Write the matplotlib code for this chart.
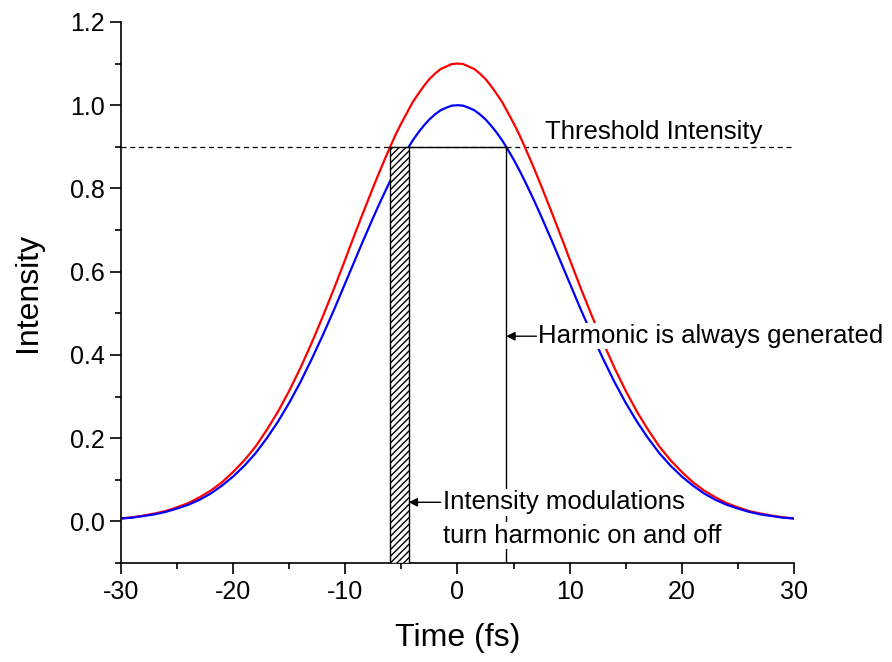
import numpy as np
import matplotlib.pyplot as plt
from matplotlib.patches import Rectangle

plt.rcParams['font.family'] = ['Liberation Sans', 'DejaVu Sans']

# pulse envelopes for t >= 0 (curves are symmetric)
t_half = [0, 0.5, 1, 1.5, 2, 2.5, 3, 3.5, 4, 4.5, 5, 5.5, 6, 6.5, 7, 7.5, 8, 8.5, 9, 9.5,
          10, 11, 12, 13, 14, 15, 16, 17, 18, 19, 20, 21, 22, 23, 24, 25, 26, 27, 28, 29, 30]
blue_half = [1.000, 0.999, 0.994, 0.988, 0.978, 0.966, 0.951, 0.934, 0.915, 0.893,
             0.870, 0.845, 0.818, 0.790, 0.761, 0.731, 0.700, 0.669, 0.637, 0.605,
             0.573, 0.509, 0.448, 0.390, 0.335, 0.285, 0.240, 0.200, 0.164, 0.134,
             0.108, 0.086, 0.067, 0.052, 0.040, 0.031, 0.023, 0.017, 0.013, 0.009, 0.007]
red_half = [1.100, 1.099, 1.093, 1.087, 1.076, 1.063, 1.046, 1.027, 1.007, 0.982,
            0.957, 0.930, 0.900, 0.869, 0.837, 0.804, 0.770, 0.736, 0.701, 0.666,
            0.630, 0.560, 0.493, 0.429, 0.369, 0.314, 0.264, 0.220, 0.180, 0.147,
            0.119, 0.094, 0.074, 0.058, 0.044, 0.034, 0.025, 0.019, 0.014, 0.010, 0.007]

threshold = 0.9
gate_left = -6.0     # red crosses threshold
gate_right = -4.35   # blue crosses threshold
always_on = 4.35

t = np.array([-v for v in t_half[:0:-1]] + t_half)
blue = np.array(blue_half[:0:-1] + blue_half)
red = np.array(red_half[:0:-1] + red_half)

fig = plt.figure(figsize=(8.92, 6.62), dpi=100)
ax = fig.add_axes([0.1357, 0.1495, 0.7543, 0.8173])

ax.plot(t, red, color='red', lw=1.6, zorder=2)
ax.plot(t, blue, color='blue', lw=1.6, zorder=2)

ymin = -0.1
ax.axhline(threshold, color='black', ls=(0, (4, 3)), lw=0.9, zorder=1)
ax.add_patch(Rectangle((gate_left, ymin), gate_right - gate_left, threshold - ymin,
                       facecolor='white', edgecolor='black', hatch='/////', lw=1.0, zorder=3))
ax.plot([gate_right, always_on], [threshold, threshold], color='black', lw=1.0, zorder=3)
ax.plot([always_on, always_on], [ymin, threshold], color='black', lw=1.0, zorder=3)

box = dict(facecolor='white', edgecolor='none', pad=1)
arr = dict(arrowstyle='-|>', color='black', lw=1.0, mutation_scale=13, shrinkA=0, shrinkB=0)
fs = 18.5

ax.text(7.85, 0.935, 'Threshold Intensity', fontsize=fs, va='center', ha='left', bbox=box, zorder=4)

ax.text(7.15, 0.445, 'Harmonic is always generated', fontsize=fs, va='center', ha='left',
        bbox=box, zorder=4)
ax.annotate('', xy=(always_on, 0.445), xytext=(7.05, 0.445), arrowprops=arr, zorder=4)

ax.text(-1.25, 0.046, 'Intensity modulations', fontsize=fs, va='center', ha='left',
        bbox=box, zorder=4)
ax.text(-1.25, -0.034, 'turn harmonic on and off', fontsize=fs, va='center', ha='left',
        bbox=box, zorder=4)
ax.annotate('', xy=(gate_right, 0.046), xytext=(-1.5, 0.046), arrowprops=arr, zorder=4)

ax.set_xlim(-30, 30)
ax.set_ylim(ymin, 1.2)
ax.set_xticks([-30, -20, -10, 0, 10, 20, 30])
ax.set_xticks([-25, -15, -5, 5, 15, 25], minor=True)
ax.set_yticks([0.0, 0.2, 0.4, 0.6, 0.8, 1.0, 1.2])
ax.set_yticks([-0.1, 0.1, 0.3, 0.5, 0.7, 0.9, 1.1], minor=True)
ax.set_yticklabels(['0.0', '0.2', '0.4', '0.6', '0.8', '1.0', '1.2'])
ax.set_xticklabels(['-30', '-20', '-10', '0', '10', '20', '30'])

for s in ['top', 'right']:
    ax.spines[s].set_visible(False)
for s in ['left', 'bottom']:
    ax.spines[s].set_linewidth(1.2)
ax.tick_params(which='major', direction='out', length=8, width=1.2, labelsize=18, pad=4)
ax.tick_params(which='minor', direction='out', length=4.5, width=1.2)

ax.set_xlabel('Time (fs)', fontsize=23, labelpad=14)
ax.set_ylabel('Intensity', fontsize=23, labelpad=19)

fig.savefig('out.png', dpi=100)
